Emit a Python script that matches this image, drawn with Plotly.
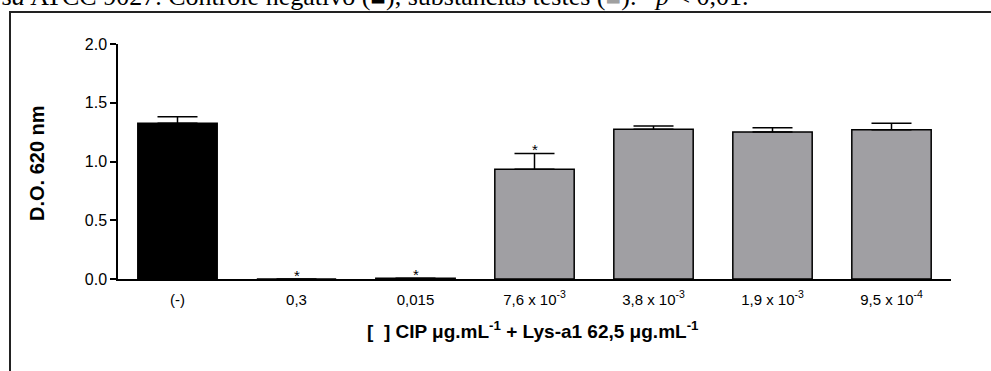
import plotly.graph_objects as go

categories = ["(-)", "0,3", "0,015", "7,6 x 10<sup>-3</sup>", "3,8 x 10<sup>-3</sup>",
              "1,9 x 10<sup>-3</sup>", "9,5 x 10<sup>-4</sup>"]
values = [1.325, 0.0, 0.006, 0.934, 1.274, 1.251, 1.271]
errors = [0.055, 0.0, 0.0, 0.135, 0.028, 0.036, 0.054]
significant = [False, True, True, True, False, False, False]
colors = ["#000000", "#a09fa3", "#a09fa3", "#a09fa3", "#a09fa3", "#a09fa3", "#a09fa3"]
y_ticks = [0.0, 0.5, 1.0, 1.5, 2.0]
y_ticklabels = ["0.0", "0.5", "1.0", "1.5", "2.0"]

W, H = 991, 371
L, R, T, B = 118, 40, 44, 92
pw, ph = W - L - R, H - T - B
SANS = "Liberation Sans, Arial, sans-serif"

def px(x):
    return (x - L) / pw

def py(y):
    return 1 - (y - T) / ph

xs = list(range(len(categories)))

fig = go.Figure()
fig.add_trace(go.Bar(
    x=xs, y=values,
    marker=dict(color=colors, line=dict(color="#000000", width=1.5)),
    error_y=dict(type="data", array=errors, arrayminus=[0] * len(errors), symmetric=False,
                 color="#000000", thickness=1.5, width=20),
    showlegend=False,
))

annotations = []
for i, s in enumerate(significant):
    if s:
        annotations.append(dict(x=i, y=values[i] + errors[i], xref="x", yref="y",
                                text="*", showarrow=False, yanchor="bottom", yshift=-7,
                                font=dict(family=SANS, size=15, color="#000")))

annotations.append(dict(
    x=px(0), y=py(13), xref="paper", yref="paper", xanchor="left", yanchor="bottom",
    text="<i>sa</i> ATCC 9027. Controle negativo (■), substâncias testes (<span style='color:#a0a0a0'>■</span>). *<i>p</i> &lt; 0,01.",
    showarrow=False, font=dict(family="Liberation Serif", size=26, color="#000")))
annotations.append(dict(
    x=px(37), y=py(163), xref="paper", yref="paper", xanchor="center", yanchor="middle",
    text="<b>D.O. 620 nm</b>", textangle=-90, showarrow=False,
    font=dict(family=SANS, size=20, color="#000")))
annotations.append(dict(
    x=px(533), y=py(330), xref="paper", yref="paper", xanchor="center", yanchor="middle",
    text="<b>[  ] CIP μg.mL<sup>-1</sup> + Lys-a1 62,5 μg.mL<sup>-1</sup></b>", showarrow=False,
    font=dict(family=SANS, size=19, color="#000")))

shapes = [
    dict(type="line", xref="paper", yref="paper", x0=px(10), x1=px(10), y0=py(12), y1=py(380),
         line=dict(color="#222", width=2)),
    dict(type="line", xref="paper", yref="paper", x0=px(9), x1=px(1000), y0=py(12), y1=py(12),
         line=dict(color="#222", width=2)),
]

fig.update_layout(
    width=W, height=H,
    margin=dict(l=L, r=R, t=T, b=B),
    paper_bgcolor="white", plot_bgcolor="white",
    bargap=0.333,
    font=dict(family=SANS, size=15, color="#000"),
    annotations=annotations,
    shapes=shapes,
    xaxis=dict(range=[-0.5, 6.5], tickvals=xs, ticktext=categories, showline=True,
               linecolor="#000", linewidth=1.5, ticks="", showgrid=False, zeroline=False,
               ticklabelstandoff=6,
               tickfont=dict(family=SANS, size=15)),
    yaxis=dict(range=[0, 2], tickvals=y_ticks, ticktext=y_ticklabels, showline=True,
               linecolor="#000", linewidth=1.5, ticks="outside", ticklen=6, tickwidth=1.5,
               tickcolor="#000", showgrid=False, zeroline=False,
               tickfont=dict(family=SANS, size=16)),
)

fig.write_html("out.html")
